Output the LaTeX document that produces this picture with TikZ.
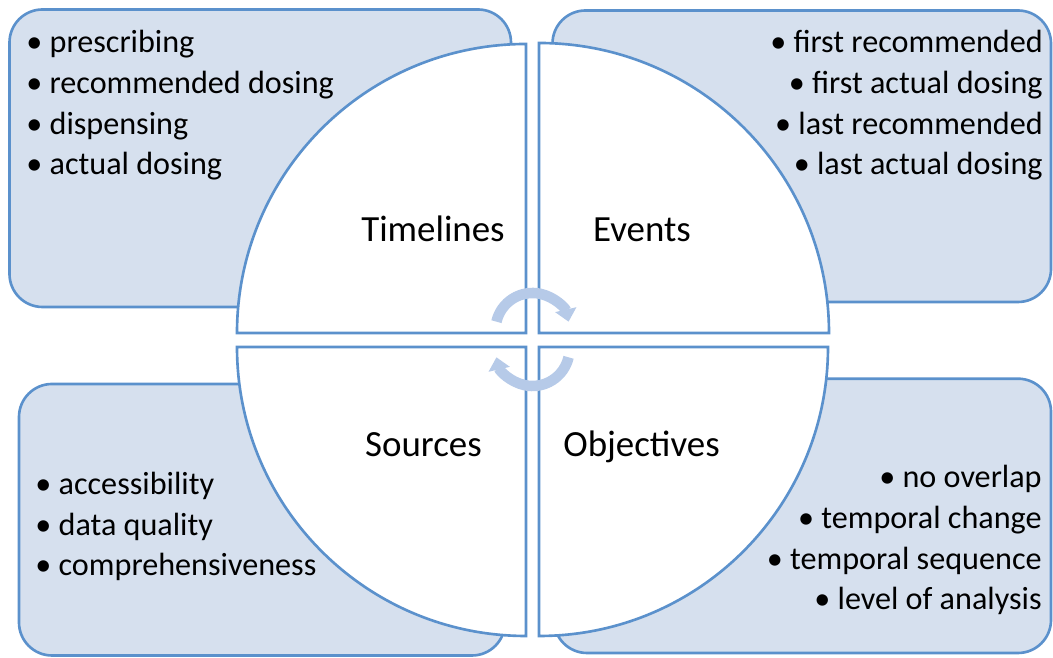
\documentclass[tikz,border=0pt]{standalone}
\usepackage{fontspec}
\setmainfont{Carlito}
\usetikzlibrary{arrows.meta}
\definecolor{edge}{RGB}{91,145,204}
\definecolor{panelfill}{RGB}{214,224,238}
\definecolor{loop}{RGB}{182,202,232}
\tikzset{
  panel/.style={draw=edge, fill=panelfill, line width=1.5pt, rounded corners=6.6mm},
  quarter/.style={draw=edge, fill=white, line width=1.5pt},
  head/.style={font=\fontsize{21}{25}\selectfont, anchor=base, inner sep=0pt},
  items/.style={font=\fontsize{18.3}{23.15}\selectfont, inner sep=0pt},
  turn/.style={draw=loop, line width=6pt, -{Triangle[width=12pt,length=7pt]}}
}

\begin{document}
\begin{tikzpicture}[x=0.2mm, y=0.2mm]
\useasboundingbox (0,0) rectangle (1053,658);

% four panels behind the disc
\draw[panel] (9.5,351) rectangle (511,648.5);
\draw[panel] (552.5,356) rectangle (1051,647.5);
\draw[panel] (19,2.5) rectangle (505,274);
\draw[panel] (554,5) rectangle (1051,279.3);

% the disc, split into quarters
\draw[quarter] (526,325) -- (237,325) arc (180:90:289) -- cycle;
\draw[quarter] (539,325) -- (539,615) arc (90:0:290) -- cycle;
\draw[quarter] (526,311) -- (526,22) arc (270:180:289) -- cycle;
\draw[quarter] (539,311) -- (828,311) arc (0:-90:289) -- cycle;

% cycle arrows in the middle
\coordinate (upper) at (532.5,328);
\coordinate (lower) at (532.5,309);
\draw[turn] (upper) ++(167:37) arc (167:13:37);
\draw[turn] (lower) ++(-13:37) arc (-13:-167:37);

\node[head] (timelines) at (433,416) {Timelines};
\node[head] (events) at (642,416) {Events};
\node[head] (sources) at (423.5,201.3) {Sources};
\node[head] (objectives) at (641.5,201.3) {Objectives};

% lists: base anchor sits on the last line
\node[items, anchor=base west, align=left] (tlist) at (26,483)
  {• prescribing\\• recommended dosing\\• dispensing\\• actual dosing};
\node[items, anchor=base east, align=right] (elist) at (1043,483)
  {• first recommended\\• first actual dosing\\• last recommended\\• last actual dosing};
\node[items, anchor=base west, align=left] (slist) at (35,82)
  {• accessibility\\• data quality\\• comprehensiveness};
\node[items, anchor=base east, align=right] (olist) at (1042,48)
  {• no overlap\\• temporal change\\• temporal sequence\\• level of analysis};
\end{tikzpicture}
\end{document}
